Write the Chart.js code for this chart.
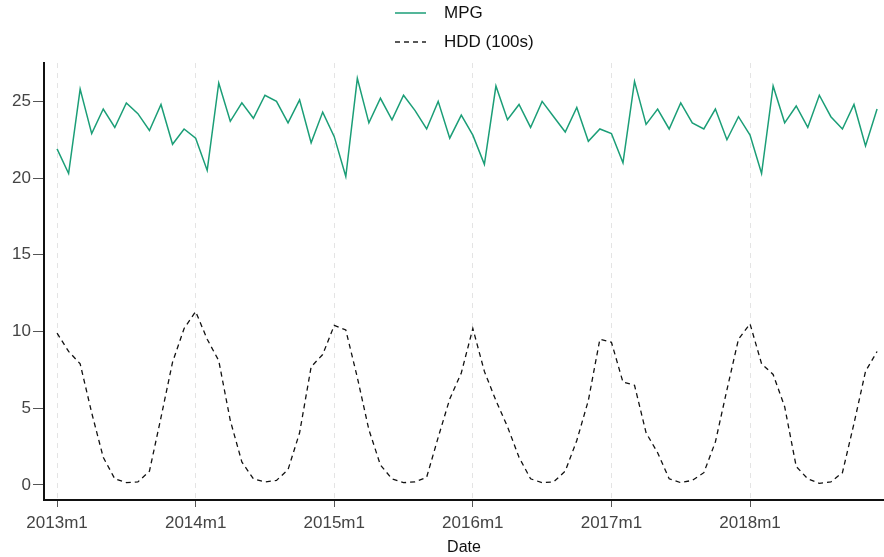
<!DOCTYPE html>
<html>
<head>
<meta charset="utf-8">
<script src="https://cdn.jsdelivr.net/npm/chart.js@4"></script>
<style>
  body { margin: 0; background: #fff; font-family: "Liberation Sans", Arial, sans-serif; }
  #wrap { position: relative; width: 884px; height: 557px; }
  #legend { position: absolute; left: 395px; top: 0; font-size: 17px; color: #111; }
  .item { position: absolute; left: 0; white-space: nowrap; }
  .item svg { position: absolute; left: 0; top: -2px; }
  .label { position: absolute; left: 49px; top: -10px; }
</style>
</head>
<body>
<div id="wrap">
  <canvas id="mpgChart" width="884" height="557"></canvas>
  <div id="legend">
    <div class="item" style="top:13px">
      <svg width="32" height="4"><line x1="0" y1="2" x2="31" y2="2" stroke="#1b9e77" stroke-width="1.5"/></svg>
      <span class="label">MPG</span>
    </div>
    <div class="item" style="top:42px">
      <svg width="32" height="4"><line x1="0" y1="2" x2="31" y2="2" stroke="#222" stroke-width="1.4" stroke-dasharray="5,4"/></svg>
      <span class="label">HDD (100s)</span>
    </div>
  </div>
</div>
<script>
// monthly values, 2013m1 .. 2018m12
const years = [2013, 2014, 2015, 2016, 2017, 2018];
const dates = [];
years.forEach(y => { for (let m = 1; m <= 12; m++) dates.push(y + 'm' + m); });

const mpg = [
  21.9, 20.3, 25.8, 22.9, 24.5, 23.3, 24.9, 24.2, 23.1, 24.8, 22.2, 23.2,
  22.6, 20.5, 26.2, 23.7, 24.9, 23.9, 25.4, 25.0, 23.6, 25.1, 22.3, 24.3,
  22.7, 20.1, 26.5, 23.6, 25.2, 23.8, 25.4, 24.4, 23.2, 25.0, 22.6, 24.1,
  22.8, 20.9, 26.0, 23.8, 24.8, 23.3, 25.0, 24.0, 23.0, 24.6, 22.4, 23.2,
  22.9, 21.0, 26.3, 23.5, 24.5, 23.2, 24.9, 23.6, 23.2, 24.5, 22.5, 24.0,
  22.8, 20.3, 26.0, 23.6, 24.7, 23.3, 25.4, 24.0, 23.2, 24.8, 22.1, 24.5
];
const hdd = [
  9.9, 8.7, 7.9, 4.7, 1.8, 0.4, 0.15, 0.2, 0.9, 4.4, 8.0, 10.2,
  11.3, 9.5, 8.1, 4.2, 1.5, 0.4, 0.2, 0.3, 1.0, 3.4, 7.7, 8.5,
  10.4, 10.1, 7.0, 3.6, 1.3, 0.4, 0.15, 0.2, 0.5, 3.1, 5.6, 7.3,
  10.2, 7.4, 5.5, 3.8, 1.8, 0.4, 0.15, 0.2, 0.9, 2.9, 5.5, 9.5,
  9.3, 6.7, 6.5, 3.4, 2.1, 0.4, 0.15, 0.3, 0.8, 2.8, 6.2, 9.5,
  10.5, 7.9, 7.2, 5.1, 1.2, 0.4, 0.1, 0.2, 0.8, 4.0, 7.4, 8.7
];

const xTicks = [0, 12, 24, 36, 48, 60];
const xTickLabels = ['2013m1', '2014m1', '2015m1', '2016m1', '2017m1', '2018m1'];
const yTicks = [0, 5, 10, 15, 20, 25];

const tickFont = { family: '"Liberation Sans", Arial, sans-serif', size: 17 };

const ctx = document.getElementById('mpgChart').getContext('2d');
const mpgChart = new Chart(ctx, {
  type: 'line',
  data: {
    datasets: [{
      label: 'MPG',
      data: mpg.map((v, i) => ({ x: i, y: v })),
      borderColor: '#1b9e77',
      borderWidth: 1.5,
      pointRadius: 0,
      tension: 0
    }, {
      label: 'HDD (100s)',
      data: hdd.map((v, i) => ({ x: i, y: v })),
      borderColor: '#111',
      borderWidth: 1.3,
      borderDash: [5, 4],
      pointRadius: 0,
      tension: 0
    }]
  },
  options: {
    responsive: false,
    animation: false,
    devicePixelRatio: 1,
    layout: { padding: { top: 63, left: 0, right: 0, bottom: 0 } },
    plugins: { legend: { display: false }, tooltip: { enabled: false } },
    scales: {
      x: {
        type: 'linear',
        min: -1.13,
        max: 71.6,
        afterFit: s => { s.height = 57; },
        afterBuildTicks: s => { s.ticks = xTicks.map(v => ({ value: v })); },
        ticks: {
          callback: v => xTickLabels[xTicks.indexOf(v)],
          color: '#444',
          font: tickFont,
          padding: 6,
          maxRotation: 0,
          autoSkip: false
        },
        grid: {
          color: '#e4e4e4',
          lineWidth: 1,
          tickColor: '#555',
          tickLength: 7,
          tickWidth: 1,
          tickBorderDash: []
        },
        border: { display: true, color: '#111', width: 2, dash: [5, 5] },
        title: {
          display: true,
          text: 'Date',
          color: '#111',
          font: { family: '"Liberation Sans", Arial, sans-serif', size: 16 },
          padding: { top: 0, bottom: 0 }
        }
      },
      y: {
        min: -0.98,
        max: 27.5,
        afterFit: s => { s.width = 44; },
        afterBuildTicks: s => { s.ticks = yTicks.map(v => ({ value: v })); },
        ticks: {
          color: '#444',
          font: tickFont,
          padding: 2
        },
        grid: {
          drawOnChartArea: false,
          drawTicks: true,
          tickColor: '#555',
          tickLength: 11,
          tickWidth: 1
        },
        border: { display: true, color: '#111', width: 2 }
      }
    }
  }
});
</script>
</body>
</html>
